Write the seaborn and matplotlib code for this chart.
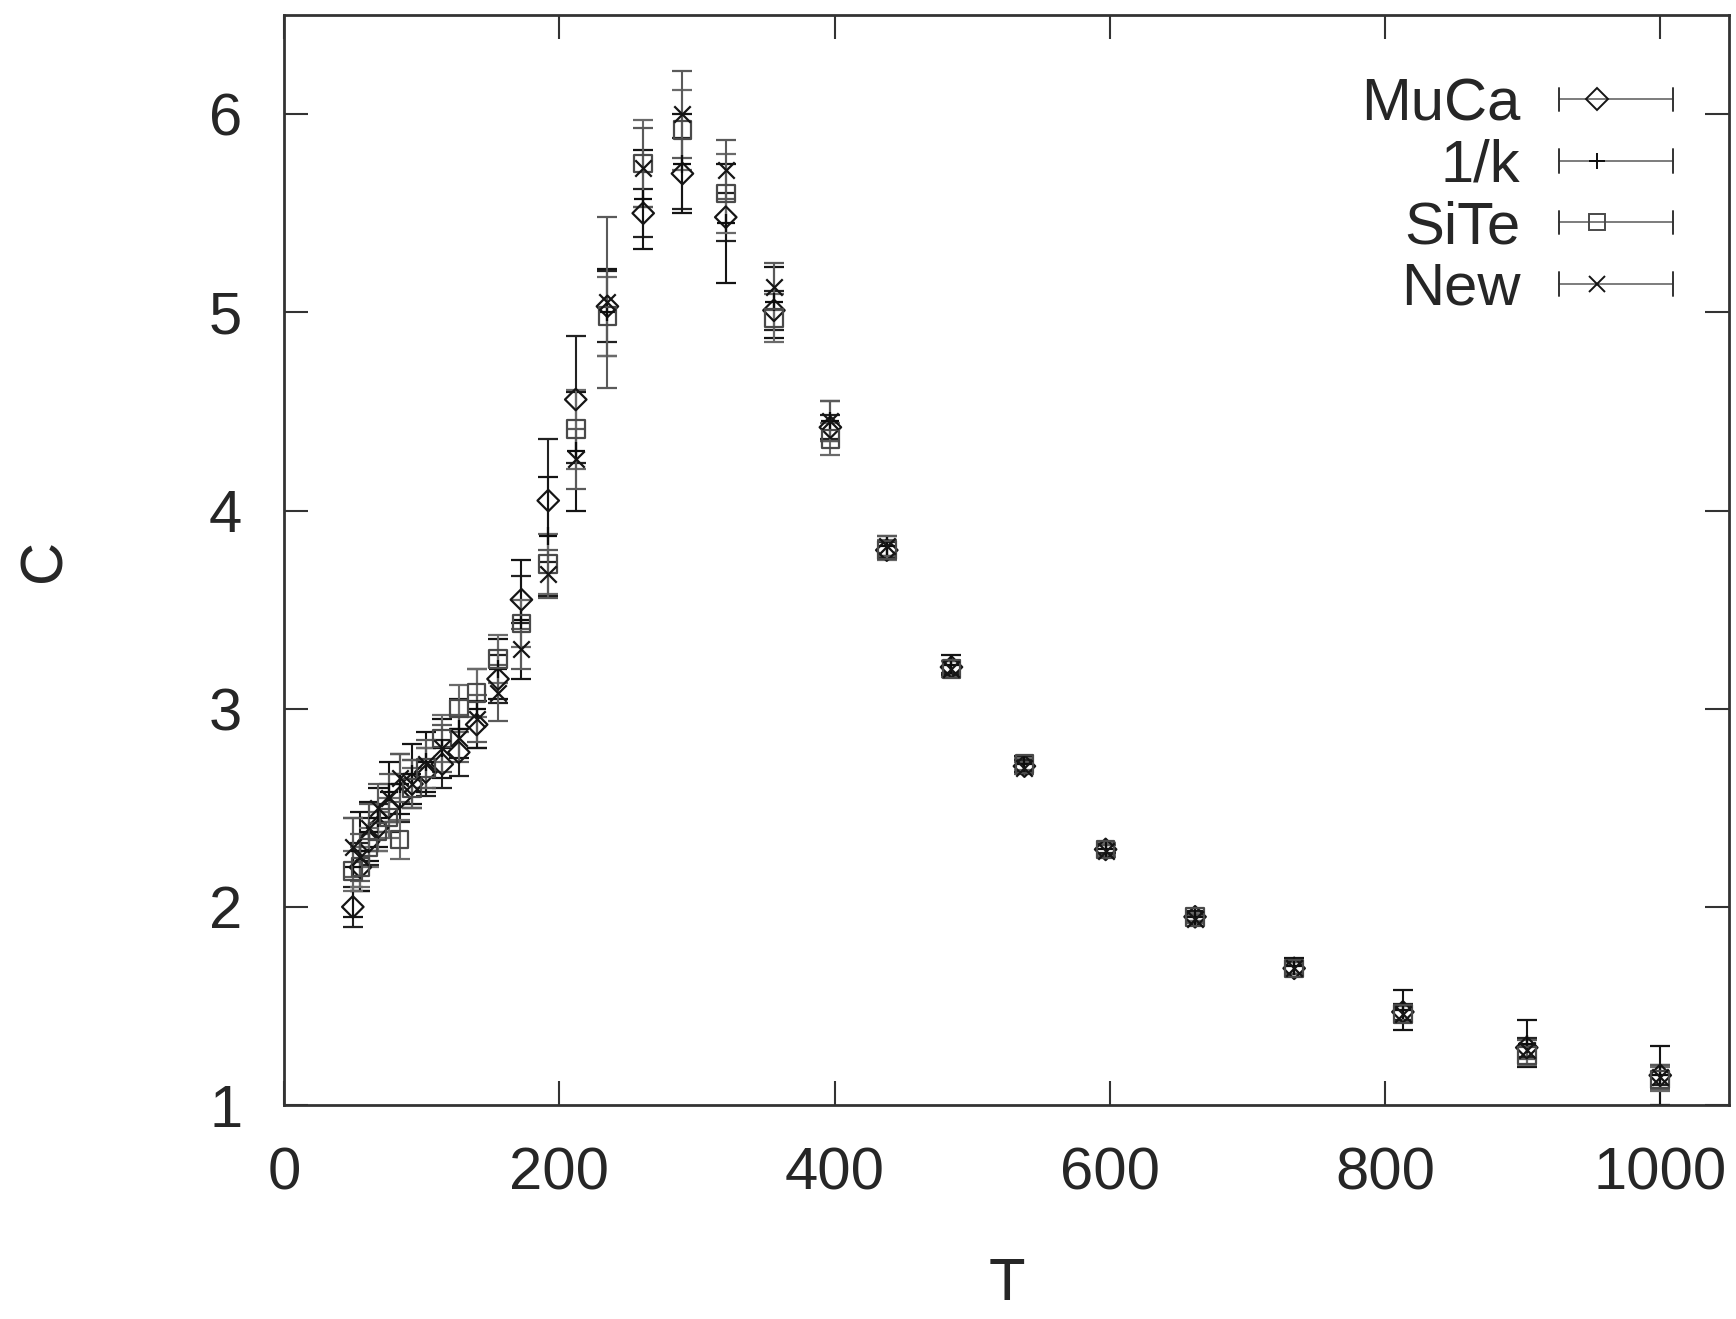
import numpy as np
import pandas as pd
import matplotlib
matplotlib.use("Agg")
import matplotlib.pyplot as plt
from matplotlib.lines import Line2D
from matplotlib.legend_handler import HandlerBase
import seaborn as sns

# Temperatures of the simulation runs
T = [50, 55.5, 61.5, 68, 76, 84, 93, 103, 115, 127, 140, 155.5, 172.5, 192, 212,
     235, 261, 289.5, 321, 356, 397, 438, 485, 538, 597, 662, 734, 813, 903, 1000]

# Specific heat per method
C_muca = [2.00, 2.20, 2.33, 2.40, 2.50, 2.55, 2.62, 2.68, 2.72, 2.78, 2.92, 3.15, 3.55, 4.05, 4.56,
          5.03, 5.50, 5.70, 5.48, 5.01, 4.42, 3.80, 3.21, 2.71, 2.29, 1.95, 1.69, 1.47, 1.29, 1.15]
E_muca = [0.10, 0.12, 0.12, 0.12, 0.12, 0.12, 0.12, 0.12, 0.12, 0.12, 0.12, 0.12, 0.12, 0.31, 0.32,
          0.18, 0.12, 0.18, 0.12, 0.10, 0.06, 0.04, 0.03, 0.03, 0.02, 0.02, 0.03, 0.04, 0.05, 0.05]

C_invk = [2.20, 2.28, 2.38, 2.45, 2.58, 2.62, 2.67, 2.73, 2.80, 2.90, 3.00, 3.20, 3.45, 3.87, 4.30,
          5.00, 5.57, 5.75, 5.45, 5.05, 4.45, 3.82, 3.22, 2.72, 2.29, 1.95, 1.70, 1.48, 1.31, 1.15]
E_invk = [0.25, 0.20, 0.15, 0.15, 0.15, 0.15, 0.15, 0.15, 0.15, 0.15, 0.20, 0.15, 0.30, 0.30, 0.30,
          0.22, 0.25, 0.25, 0.30, 0.18, 0.10, 0.05, 0.05, 0.04, 0.03, 0.03, 0.04, 0.10, 0.12, 0.15]

C_site = [2.18, 2.20, 2.30, 2.38, 2.45, 2.34, 2.60, 2.70, 2.85, 3.00, 3.08, 3.25, 3.43, 3.73, 4.41,
          4.98, 5.75, 5.92, 5.60, 4.97, 4.36, 3.80, 3.20, 2.72, 2.29, 1.95, 1.69, 1.46, 1.25, 1.13]
E_site = [0.10, 0.10, 0.10, 0.10, 0.10, 0.10, 0.10, 0.10, 0.12, 0.12, 0.12, 0.12, 0.12, 0.15, 0.20,
          0.20, 0.22, 0.20, 0.20, 0.12, 0.08, 0.05, 0.04, 0.03, 0.03, 0.02, 0.03, 0.04, 0.05, 0.06]

C_new = [2.30, 2.25, 2.40, 2.50, 2.55, 2.65, 2.62, 2.72, 2.80, 2.85, 2.95, 3.08, 3.30, 3.68, 4.26,
         5.05, 5.73, 6.00, 5.72, 5.13, 4.45, 3.82, 3.20, 2.70, 2.28, 1.94, 1.69, 1.46, 1.28, 1.14]
E_new = [0.15, 0.12, 0.12, 0.12, 0.12, 0.12, 0.12, 0.12, 0.12, 0.12, 0.12, 0.14, 0.10, 0.12, 0.15,
         0.43, 0.20, 0.22, 0.15, 0.12, 0.10, 0.05, 0.04, 0.03, 0.03, 0.02, 0.03, 0.04, 0.05, 0.06]

labels = ["MuCa", "1/k", "SiTe", "New"]
values = [C_muca, C_invk, C_site, C_new]
errors = [E_muca, E_invk, E_site, E_new]

sns.set_theme(style="ticks")
plt.rcParams["font.family"] = ["Liberation Sans", "DejaVu Sans"]

styles = {
    "MuCa": dict(marker="D", ms=120, color="#151515", ecolor="#222222", open=True),
    "1/k":  dict(marker="+", ms=170, color="#0d0d0d", ecolor="#151515", open=False),
    "SiTe": dict(marker="s", ms=160, color="#4a4a4a", ecolor="#6a6a6a", open=True),
    "New":  dict(marker="x", ms=140, color="#151515", ecolor="#5a5a5a", open=False),
}

df = pd.concat(
    [pd.DataFrame({"T": T, "C": v, "err": e, "method": lab})
     for lab, v, e in zip(labels, values, errors)],
    ignore_index=True,
)

fig = plt.figure(figsize=(17.36, 13.19), dpi=100)
ax = fig.add_axes([0.1636, 0.1622, 0.8324, 0.8264])

for lab in labels:
    sub = df[df["method"] == lab]
    st = styles[lab]
    ax.errorbar(sub["T"], sub["C"], yerr=sub["err"], fmt="none",
                ecolor=st["ecolor"], elinewidth=1.5, capsize=7, capthick=1.6, zorder=2)
    sns.scatterplot(data=sub, x="T", y="C", marker=st["marker"], s=st["ms"],
                    color=st["color"], linewidth=1.6, legend=False, ax=ax, zorder=3)
    coll = ax.collections[-1]
    if st["open"]:
        coll.set_facecolor("none")
        coll.set_edgecolor(st["color"])


class CapLineHandler(HandlerBase):
    """Horizontal error-bar sample with end caps and the marker drawn on it."""

    def create_artists(self, legend, orig_handle, xdescent, ydescent, width, height,
                       fontsize, trans):
        x0 = -xdescent
        y = -ydescent + height / 2.0
        cap = height * 0.28
        col = orig_handle.get_color()
        arts = [
            Line2D([x0, x0 + width], [y, y], color="#666666", lw=1.2),
            Line2D([x0, x0], [y - cap, y + cap], color="#333333", lw=1.4),
            Line2D([x0 + width, x0 + width], [y - cap, y + cap], color="#333333", lw=1.4),
            Line2D([x0 + 0.33 * width], [y], marker=orig_handle.get_marker(),
                   markersize=orig_handle.get_markersize(), color=col,
                   markerfacecolor=orig_handle.get_markerfacecolor(),
                   markeredgecolor=col, markeredgewidth=1.4, linestyle="none"),
        ]
        for a in arts:
            a.set_transform(trans)
        return arts


handles = []
for lab in labels:
    st = styles[lab]
    handles.append(Line2D([], [], marker=st["marker"], markersize=11, color=st["color"],
                          markerfacecolor="none" if st["open"] else st["color"],
                          linestyle="none"))

leg = ax.legend(handles, labels, handler_map={Line2D: CapLineHandler()},
                loc="upper right", bbox_to_anchor=(0.961, 0.943), frameon=False,
                markerfirst=False, fontsize=43, handlelength=1.9, handletextpad=0.65,
                labelspacing=0.11, borderpad=0.0, borderaxespad=0.0)

ax.set_xlim(0, 1050)
ax.set_ylim(1, 6.5)
ax.set_xticks([0, 200, 400, 600, 800, 1000])
ax.set_yticks([1, 2, 3, 4, 5, 6])
ax.tick_params(direction="in", length=17, width=1.5, color="#333333",
               labelsize=43, pad=30, top=True, right=True)
for side in ["top", "bottom", "left", "right"]:
    ax.spines[side].set_visible(True)
    ax.spines[side].set_linewidth(2.0)
    ax.spines[side].set_color("#333333")

ax.set_xlabel("T", fontsize=43, labelpad=40)
ax.set_ylabel("C", fontsize=43, labelpad=98)

fig.savefig("out.png", dpi=100, facecolor="white")
